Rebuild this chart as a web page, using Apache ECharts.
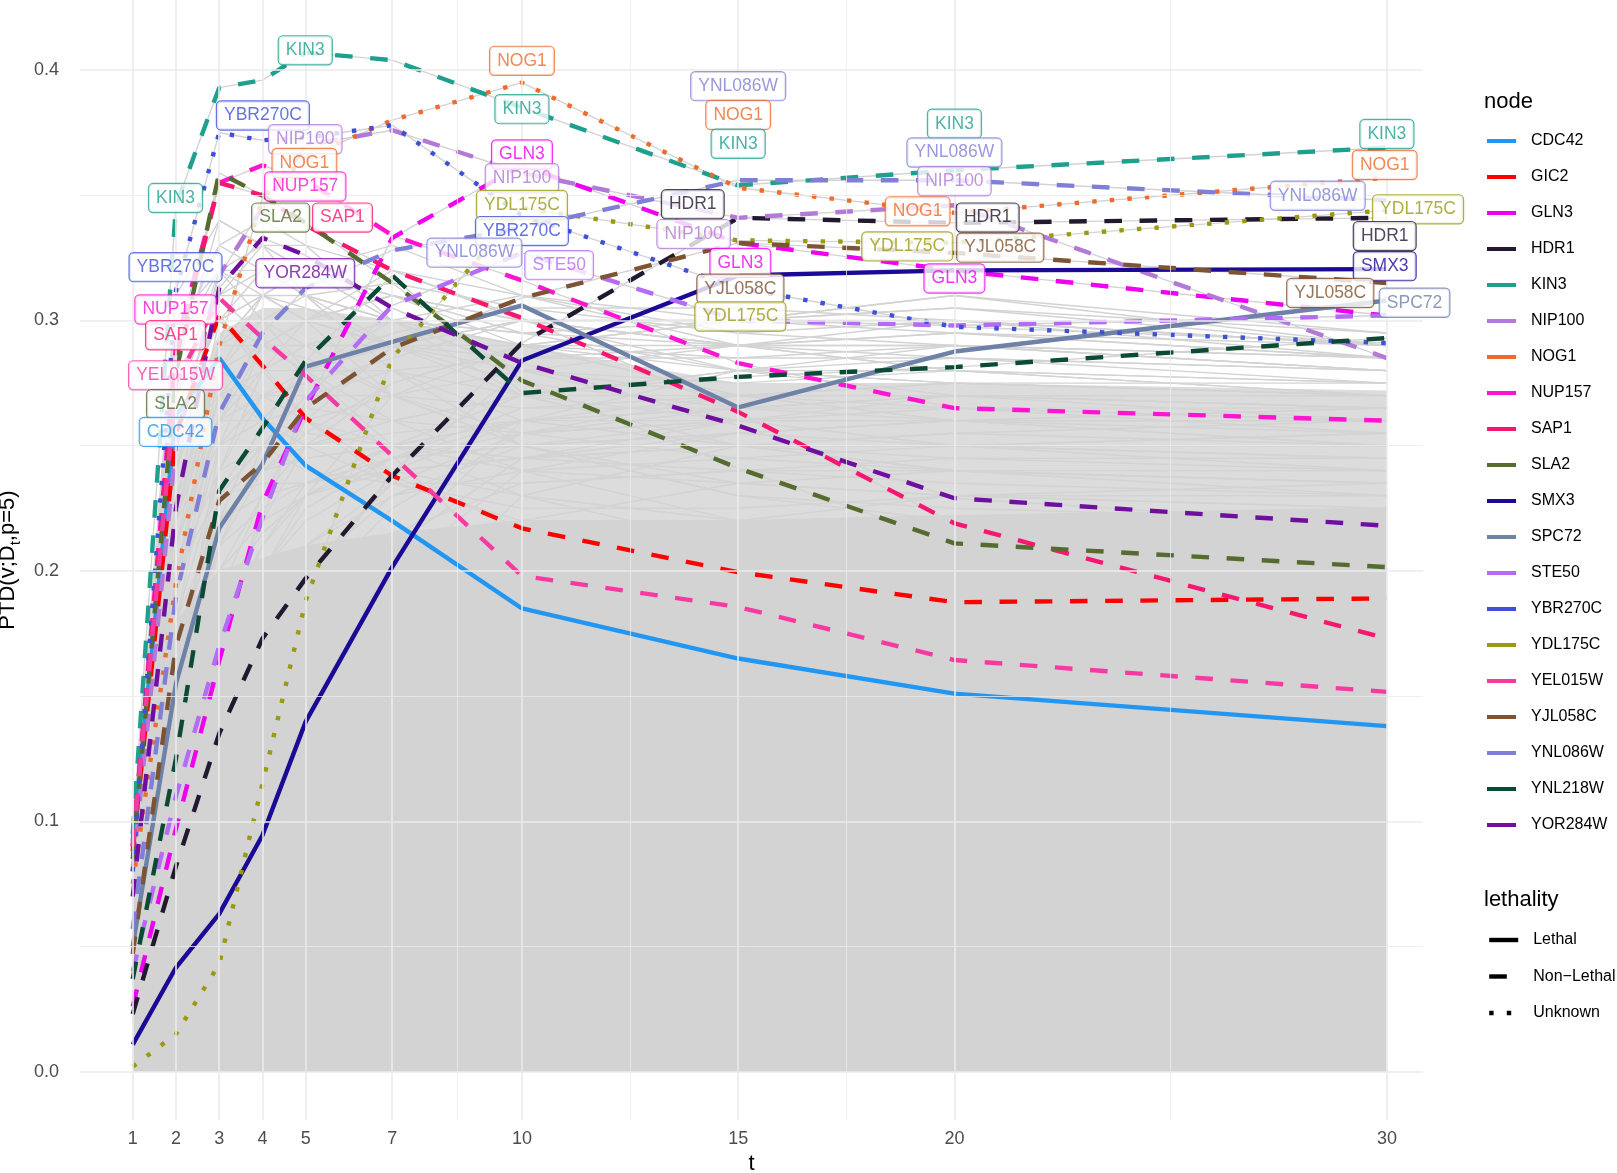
<!DOCTYPE html>
<html>
<head>
<meta charset="utf-8">
<title>PTD(v;Dt,p=5)</title>
<script src="https://cdn.jsdelivr.net/npm/echarts@6/dist/echarts.min.js"></script>
<style>
html, body { margin: 0; padding: 0; background: #fff; }
#main { width: 1617px; height: 1173px; }
</style>
</head>
<body>
<div id="main"></div>
<script>
// x positions (t) and tick values
var tValues = [1, 2, 3, 4, 5, 7, 10, 15, 20, 30];
var yTicks = [0, 0.1, 0.2, 0.3, 0.4];
var yMinor = [0.05, 0.15, 0.25, 0.35];
var xMinor = [8.5, 12.5, 17.5, 25];

// highlighted nodes, values at each t
var cdc42   = [0.092, 0.262, 0.285, 0.261, 0.242, 0.220, 0.185, 0.165, 0.151, 0.138];
var gic2    = [0.088, 0.255, 0.302, 0.282, 0.261, 0.238, 0.217, 0.1995, 0.1875, 0.189];
var gln3    = [0.026, 0.097, 0.164, 0.227, 0.265, 0.333, 0.362, 0.331, 0.320, 0.302];
var hdr1    = [0.023, 0.082, 0.135, 0.173, 0.197, 0.238, 0.291, 0.341, 0.339, 0.341];
var kin3    = [0.095, 0.346, 0.393, 0.396, 0.407, 0.404, 0.385, 0.354, 0.360, 0.369];
var nip100  = [0.080, 0.250, 0.318, 0.345, 0.370, 0.376, 0.359, 0.341, 0.346, 0.285];
var nog1    = [0.075, 0.195, 0.290, 0.349, 0.365, 0.380, 0.395, 0.353, 0.343, 0.357];
var nup157  = [0.090, 0.290, 0.355, 0.362, 0.356, 0.334, 0.316, 0.283, 0.265, 0.260];
var sap1    = [0.090, 0.285, 0.355, 0.350, 0.338, 0.320, 0.301, 0.2635, 0.219, 0.173];
var sla2    = [0.085, 0.279, 0.359, 0.350, 0.339, 0.315, 0.276, 0.241, 0.211, 0.2015];
var smx3    = [0.0108, 0.0416, 0.063, 0.0944, 0.1398, 0.2015, 0.284, 0.318, 0.320, 0.3205];
var spc72   = [0.050, 0.155, 0.217, 0.2427, 0.2816, 0.2915, 0.306, 0.2653, 0.2876, 0.308];
var ste50   = [0.040, 0.110, 0.170, 0.221, 0.268, 0.306, 0.327, 0.300, 0.298, 0.302];
var ybr270c = [0.080, 0.312, 0.375, 0.372, 0.373, 0.378, 0.342, 0.313, 0.2975, 0.291];
var ydl175c = [0.002, 0.015, 0.043, 0.115, 0.188, 0.285, 0.345, 0.332, 0.331, 0.344];
var yel015w = [0.090, 0.275, 0.309, 0.293, 0.278, 0.246, 0.198, 0.1856, 0.1644, 0.1517];
var yjl058c = [0.047, 0.170, 0.228, 0.243, 0.265, 0.289, 0.309, 0.331, 0.327, 0.315];
var ynl086w = [0.057, 0.190, 0.263, 0.295, 0.313, 0.328, 0.337, 0.356, 0.356, 0.348];
var ynl218w = [0.037, 0.125, 0.232, 0.257, 0.284, 0.318, 0.271, 0.2775, 0.2814, 0.293];
var yor284w = [0.070, 0.225, 0.313, 0.333, 0.326, 0.305, 0.283, 0.258, 0.229, 0.218];

var nodeNames = ['CDC42', 'GIC2', 'GLN3', 'HDR1', 'KIN3', 'NIP100', 'NOG1', 'NUP157', 'SAP1', 'SLA2',
                 'SMX3', 'SPC72', 'STE50', 'YBR270C', 'YDL175C', 'YEL015W', 'YJL058C', 'YNL086W', 'YNL218W', 'YOR284W'];
var nodeData = [cdc42, gic2, gln3, hdr1, kin3, nip100, nog1, nup157, sap1, sla2,
                smx3, spc72, ste50, ybr270c, ydl175c, yel015w, yjl058c, ynl086w, ynl218w, yor284w];
var nodeColors = ['#2196f3', '#ff0000', '#f000f0', '#22182f', '#1fa08f', '#b27ad6', '#ef6a2b', '#ff14d2', '#f7176f', '#556b2f',
                  '#1a0a96', '#6e81a6', '#b46cf6', '#3f50d8', '#9a9a12', '#f73aa2', '#7d5433', '#7f7fd5', '#0b4a35', '#6f0fa0'];
var lethalityNames = ['Lethal', 'Non\u2212Lethal', 'Unknown'];
var nodeLethality = [0, 1, 1, 1, 1, 1, 2, 1, 1, 1,
                     0, 0, 1, 2, 2, 1, 1, 1, 1, 1];

// the other nodes (grey): where the lines are too dense to tell apart, a filled band;
// the mesh above it is thinner, then the separate lines that stand out
var greyFloor = [0.090, 0.180, 0.200, 0.205, 0.210, 0.215, 0.220, 0.220, 0.222, 0.225];
var greyMesh  = [0.095, 0.250, 0.295, 0.305, 0.305, 0.300, 0.290, 0.275, 0.275, 0.272];
var greyLines = [
  [0.090, 0.300, 0.330, 0.320, 0.310, 0.290, 0.270, 0.250, 0.240, 0.230],
  [0.080, 0.280, 0.340, 0.330, 0.320, 0.300, 0.280, 0.260, 0.250, 0.245],
  [0.070, 0.250, 0.310, 0.330, 0.330, 0.320, 0.300, 0.280, 0.270, 0.260],
  [0.060, 0.220, 0.290, 0.310, 0.320, 0.330, 0.310, 0.290, 0.280, 0.270],
  [0.050, 0.180, 0.260, 0.290, 0.300, 0.310, 0.300, 0.300, 0.305, 0.295],
  [0.040, 0.150, 0.220, 0.260, 0.280, 0.300, 0.310, 0.300, 0.310, 0.290],
  [0.030, 0.120, 0.190, 0.230, 0.260, 0.290, 0.300, 0.290, 0.300, 0.285],
  [0.020, 0.090, 0.150, 0.200, 0.230, 0.270, 0.290, 0.300, 0.300, 0.290],
  [0.015, 0.070, 0.120, 0.160, 0.190, 0.240, 0.280, 0.290, 0.290, 0.280],
  [0.010, 0.050, 0.090, 0.130, 0.160, 0.210, 0.260, 0.280, 0.285, 0.280],
  [0.085, 0.270, 0.300, 0.290, 0.280, 0.260, 0.240, 0.220, 0.215, 0.210],
  [0.075, 0.240, 0.290, 0.300, 0.290, 0.270, 0.250, 0.230, 0.225, 0.220],
  [0.065, 0.210, 0.270, 0.280, 0.280, 0.280, 0.270, 0.260, 0.250, 0.240],
  [0.055, 0.190, 0.250, 0.270, 0.270, 0.270, 0.265, 0.270, 0.270, 0.265],
  [0.045, 0.160, 0.230, 0.250, 0.260, 0.270, 0.280, 0.275, 0.280, 0.275],
  [0.035, 0.130, 0.200, 0.230, 0.250, 0.260, 0.270, 0.280, 0.290, 0.280],
  [0.025, 0.100, 0.170, 0.210, 0.235, 0.250, 0.260, 0.265, 0.270, 0.270],
  [0.020, 0.080, 0.130, 0.170, 0.200, 0.235, 0.255, 0.260, 0.260, 0.265],
  [0.012, 0.060, 0.100, 0.140, 0.170, 0.210, 0.245, 0.255, 0.250, 0.255],
  [0.008, 0.040, 0.070, 0.100, 0.130, 0.180, 0.230, 0.250, 0.255, 0.260],
  [0.090, 0.290, 0.320, 0.300, 0.280, 0.250, 0.230, 0.210, 0.200, 0.190],
  [0.080, 0.260, 0.280, 0.270, 0.260, 0.240, 0.230, 0.220, 0.210, 0.205],
  [0.070, 0.230, 0.260, 0.260, 0.255, 0.250, 0.245, 0.240, 0.235, 0.230],
  [0.060, 0.200, 0.240, 0.250, 0.250, 0.255, 0.260, 0.250, 0.245, 0.240],
  [0.050, 0.170, 0.220, 0.240, 0.245, 0.250, 0.250, 0.255, 0.260, 0.250],
  [0.040, 0.140, 0.190, 0.215, 0.230, 0.245, 0.250, 0.260, 0.265, 0.255],
  [0.030, 0.110, 0.160, 0.190, 0.210, 0.230, 0.240, 0.245, 0.250, 0.245],
  [0.020, 0.085, 0.130, 0.160, 0.185, 0.215, 0.235, 0.240, 0.240, 0.235],
  [0.010, 0.055, 0.090, 0.120, 0.150, 0.190, 0.220, 0.235, 0.240, 0.240],
  [0.005, 0.030, 0.060, 0.090, 0.115, 0.160, 0.200, 0.220, 0.230, 0.235],
  [0.085, 0.260, 0.300, 0.310, 0.300, 0.290, 0.285, 0.290, 0.295, 0.285],
  [0.070, 0.220, 0.280, 0.300, 0.310, 0.315, 0.305, 0.295, 0.300, 0.290],
  [0.055, 0.200, 0.270, 0.290, 0.300, 0.310, 0.300, 0.290, 0.285, 0.275],
  [0.040, 0.160, 0.240, 0.280, 0.300, 0.320, 0.310, 0.295, 0.290, 0.280],
  [0.060, 0.240, 0.310, 0.320, 0.310, 0.280, 0.260, 0.250, 0.250, 0.250],
  [0.050, 0.210, 0.290, 0.310, 0.305, 0.290, 0.275, 0.265, 0.260, 0.260],
  [0.030, 0.130, 0.210, 0.250, 0.270, 0.280, 0.285, 0.285, 0.290, 0.285],
  [0.020, 0.100, 0.180, 0.220, 0.250, 0.275, 0.290, 0.300, 0.305, 0.290],
  [0.090, 0.270, 0.310, 0.310, 0.300, 0.270, 0.250, 0.235, 0.230, 0.225],
  [0.080, 0.250, 0.290, 0.290, 0.285, 0.270, 0.255, 0.245, 0.240, 0.235],
  [0.095, 0.310, 0.340, 0.330, 0.310, 0.280, 0.250, 0.230, 0.220, 0.210],
  [0.088, 0.300, 0.320, 0.310, 0.300, 0.290, 0.300, 0.290, 0.280, 0.270],
  [0.082, 0.290, 0.330, 0.340, 0.330, 0.300, 0.270, 0.250, 0.240, 0.235],
  [0.078, 0.270, 0.320, 0.320, 0.310, 0.300, 0.290, 0.270, 0.265, 0.260],
  [0.072, 0.260, 0.300, 0.310, 0.320, 0.310, 0.295, 0.280, 0.275, 0.270],
  [0.066, 0.230, 0.280, 0.290, 0.290, 0.300, 0.295, 0.300, 0.295, 0.285],
  [0.062, 0.220, 0.270, 0.270, 0.260, 0.250, 0.240, 0.235, 0.230, 0.225],
  [0.058, 0.200, 0.260, 0.280, 0.290, 0.290, 0.280, 0.270, 0.260, 0.255],
  [0.052, 0.190, 0.250, 0.260, 0.265, 0.260, 0.255, 0.260, 0.265, 0.260],
  [0.048, 0.180, 0.240, 0.270, 0.280, 0.290, 0.290, 0.285, 0.285, 0.280],
  [0.044, 0.170, 0.220, 0.240, 0.250, 0.260, 0.270, 0.270, 0.275, 0.270],
  [0.038, 0.150, 0.210, 0.240, 0.255, 0.275, 0.290, 0.290, 0.295, 0.290],
  [0.034, 0.140, 0.200, 0.220, 0.230, 0.240, 0.245, 0.250, 0.255, 0.250],
  [0.028, 0.120, 0.180, 0.210, 0.230, 0.250, 0.270, 0.280, 0.280, 0.275],
  [0.024, 0.110, 0.170, 0.200, 0.220, 0.240, 0.260, 0.270, 0.275, 0.270],
  [0.018, 0.090, 0.150, 0.190, 0.210, 0.235, 0.255, 0.265, 0.270, 0.265],
  [0.014, 0.075, 0.130, 0.170, 0.200, 0.230, 0.250, 0.255, 0.260, 0.260],
  [0.010, 0.065, 0.120, 0.160, 0.190, 0.225, 0.255, 0.270, 0.275, 0.275],
  [0.006, 0.050, 0.100, 0.140, 0.170, 0.210, 0.245, 0.260, 0.270, 0.270],
  [0.004, 0.035, 0.080, 0.120, 0.155, 0.200, 0.240, 0.255, 0.260, 0.265],
  [0.090, 0.280, 0.300, 0.280, 0.260, 0.235, 0.220, 0.215, 0.210, 0.215],
  [0.085, 0.250, 0.270, 0.260, 0.250, 0.235, 0.225, 0.225, 0.230, 0.230],
  [0.075, 0.220, 0.250, 0.250, 0.240, 0.235, 0.235, 0.240, 0.245, 0.245],
  [0.065, 0.200, 0.230, 0.235, 0.235, 0.240, 0.245, 0.250, 0.250, 0.255],
  [0.055, 0.180, 0.220, 0.230, 0.235, 0.245, 0.255, 0.260, 0.260, 0.260],
  [0.045, 0.160, 0.210, 0.225, 0.235, 0.250, 0.260, 0.265, 0.270, 0.265],
  [0.035, 0.130, 0.190, 0.215, 0.230, 0.245, 0.260, 0.260, 0.260, 0.260],
  [0.025, 0.100, 0.160, 0.200, 0.225, 0.245, 0.265, 0.265, 0.265, 0.265],
  [0.050, 0.220, 0.300, 0.320, 0.320, 0.310, 0.290, 0.270, 0.270, 0.265],
  [0.070, 0.250, 0.320, 0.330, 0.320, 0.300, 0.280, 0.270, 0.260, 0.250],
  [0.040, 0.190, 0.280, 0.310, 0.310, 0.300, 0.290, 0.280, 0.275, 0.270],
  [0.030, 0.150, 0.250, 0.290, 0.300, 0.300, 0.295, 0.290, 0.290, 0.285],
  [0.060, 0.210, 0.260, 0.270, 0.275, 0.285, 0.300, 0.300, 0.310, 0.295],
  [0.020, 0.120, 0.220, 0.260, 0.280, 0.295, 0.305, 0.305, 0.300, 0.290]
];

// repelled labels: node, t, value
var labelNodes = ['KIN3', 'YBR270C', 'NIP100', 'NOG1', 'NUP157', 'SLA2', 'SAP1', 'YOR284W',
                  'KIN3', 'YBR270C', 'NUP157', 'SAP1', 'YEL015W', 'SLA2', 'CDC42',
                  'NOG1', 'KIN3', 'GLN3', 'NIP100', 'YDL175C', 'YBR270C', 'YNL086W', 'STE50',
                  'YNL086W', 'NOG1', 'KIN3', 'HDR1', 'NIP100', 'GLN3', 'YJL058C', 'YDL175C',
                  'KIN3', 'YNL086W', 'NIP100', 'NOG1', 'HDR1', 'YDL175C', 'YJL058C', 'GLN3',
                  'KIN3', 'NOG1', 'YNL086W', 'YDL175C', 'HDR1', 'SMX3', 'YJL058C', 'SPC72'];
var labelT = [4.99, 4.01, 4.99, 4.97, 4.99, 4.42, 5.85, 4.99,
              1.99, 1.99, 1.99, 1.99, 1.99, 1.99, 1.99,
              10.0, 10.0, 10.0, 10.0, 10.0, 10.0, 8.90, 10.86,
              15.0, 15.0, 15.0, 13.95, 13.97, 15.05, 15.05, 15.05,
              20.0, 20.0, 20.0, 19.15, 20.77, 18.91, 21.06, 20.0,
              30.0, 29.95, 28.40, 30.72, 29.95, 29.95, 28.69, 30.64];
var labelV = [0.4079, 0.3819, 0.3724, 0.3629, 0.3535, 0.3411, 0.3411, 0.3189,
              0.3489, 0.3213, 0.3044, 0.2941, 0.2781, 0.2666, 0.2555,
              0.4037, 0.3844, 0.3663, 0.3568, 0.3461, 0.3357, 0.3271, 0.3221,
              0.3936, 0.3821, 0.3706, 0.3464, 0.3345, 0.3230, 0.3127, 0.3016,
              0.3786, 0.3671, 0.3556, 0.3436, 0.3411, 0.3296, 0.3291, 0.3168,
              0.3745, 0.3621, 0.3498, 0.3444, 0.3337, 0.3217, 0.3110, 0.3071];

var FONT = '"Liberation Sans", Arial, sans-serif';
var GREY = '#d3d3d3';
var dashStyles = ['solid', [17.6, 17.6], [4.4, 13.2]];

function pairs(vals) {
  return tValues.map(function (t, i) { return [t, vals[i]]; });
}

var series = [];

// panel grid lines (behind everything)
var gridLines = [];
tValues.forEach(function (t) { gridLines.push({ xAxis: t, lineStyle: { width: 1.6 } }); });
xMinor.forEach(function (t) { gridLines.push({ xAxis: t, lineStyle: { width: 0.8 } }); });
yTicks.forEach(function (v) { gridLines.push({ yAxis: v, lineStyle: { width: 1.6 } }); });
yMinor.forEach(function (v) { gridLines.push({ yAxis: v, lineStyle: { width: 0.8 } }); });
series.push({
  type: 'line', data: [], z: 0, silent: true,
  markLine: {
    silent: true, symbol: ['none', 'none'], label: { show: false },
    lineStyle: { color: '#ebebeb', type: 'solid' },
    emphasis: { disabled: true },
    data: gridLines
  }
});

// grey mass: thinner mesh first, the solid part over it
series.push({
  type: 'line', data: pairs(greyMesh), z: 1, silent: true, symbol: 'none',
  lineStyle: { width: 0 },
  areaStyle: { color: GREY, opacity: 0.8 }
});
series.push({
  type: 'line', data: pairs(greyFloor), z: 1, silent: true, symbol: 'none',
  lineStyle: { color: GREY, width: 1.4 },
  areaStyle: { color: GREY, opacity: 1 }
});
greyLines.forEach(function (vals) {
  series.push({
    type: 'line', data: pairs(vals), z: 1, silent: true, symbol: 'none',
    lineStyle: { color: GREY, width: 1.4 }
  });
});
// grey copy under each highlighted node
nodeData.forEach(function (vals) {
  series.push({
    type: 'line', data: pairs(vals), z: 1, silent: true, symbol: 'none',
    lineStyle: { color: GREY, width: 1.4 }
  });
});

// highlighted nodes
nodeNames.forEach(function (name, i) {
  series.push({
    name: name, type: 'line', data: pairs(nodeData[i]), z: 3, symbol: 'none',
    color: nodeColors[i],
    lineStyle: { color: nodeColors[i], width: 4.4, type: dashStyles[nodeLethality[i]], cap: 'butt' }
  });
});

// empty series just for the lethality legend
lethalityNames.forEach(function (name, i) {
  series.push({
    name: name, type: 'line', data: [], symbol: 'none', color: '#000',
    lineStyle: { color: '#000', width: 4.4, type: dashStyles[i] }
  });
});

// labels
var labelItems = labelNodes.map(function (n, i) {
  var c = nodeColors[nodeNames.indexOf(n)];
  return { name: n, value: [labelT[i], labelV[i]], label: { color: c, borderColor: c } };
});
series.push({
  type: 'scatter', data: labelItems, z: 10, symbolSize: 1, silent: true,
  itemStyle: { color: 'rgba(0,0,0,0)' },
  label: {
    show: true, position: 'inside', formatter: '{b}',
    fontFamily: FONT, fontSize: 17.5, lineHeight: 18,
    backgroundColor: '#fff', borderWidth: 1.2, borderRadius: 4, padding: [5, 7]
  }
});

var option = {
  animation: false,
  backgroundColor: '#fff',
  textStyle: { fontFamily: FONT },
  title: [
    { text: 'node', left: 1484, top: 91, padding: 0,
      textStyle: { fontSize: 22, fontWeight: 'normal', color: '#000', fontFamily: FONT } },
    { text: 'lethality', left: 1484, top: 889, padding: 0,
      textStyle: { fontSize: 22, fontWeight: 'normal', color: '#000', fontFamily: FONT } }
  ],
  legend: [
    {
      data: nodeNames, orient: 'vertical', left: 1487, top: 131, padding: 0,
      icon: 'rect', itemWidth: 29, itemHeight: 4, itemGap: 16, selectedMode: false,
      itemStyle: { borderWidth: 0 },
      textStyle: { fontSize: 16, color: '#000', lineHeight: 20, fontFamily: FONT, padding: [0, 0, 0, 10] }
    },
    {
      data: lethalityNames, orient: 'vertical', left: 1487, top: 930, padding: 0,
      itemWidth: 29, itemHeight: 14, itemGap: 16.5, selectedMode: false,
      itemStyle: { opacity: 0, borderWidth: 0 },
      lineStyle: { width: 4.4 },
      textStyle: { fontSize: 16, color: '#000', lineHeight: 20, fontFamily: FONT, padding: [0, 0, 0, 10] }
    }
  ],
  grid: { left: 80, right: 194, top: 0, bottom: 53, containLabel: false, outerBoundsMode: 'none' },
  xAxis: {
    type: 'value', min: -0.219, max: 30.835,
    name: 't', nameLocation: 'middle', nameGap: 31,
    nameTextStyle: { fontSize: 22, color: '#000', fontFamily: FONT },
    axisLine: { show: false }, axisTick: { show: false }, splitLine: { show: false },
    axisLabel: { customValues: tValues, margin: 10, fontSize: 18, color: '#4d4d4d', fontFamily: FONT }
  },
  yAxis: {
    type: 'value', min: -0.0193, max: 0.428,
    name: '{a|PTD(v;D}{b|t}{a|,p=5)}', nameLocation: 'middle', nameGap: 57, nameRotate: 90,
    nameTextStyle: {
      color: '#000', fontFamily: FONT,
      rich: {
        a: { fontSize: 22, lineHeight: 30, verticalAlign: 'middle', color: '#000', fontFamily: FONT },
        b: { fontSize: 15, lineHeight: 15, verticalAlign: 'bottom', color: '#000', fontFamily: FONT }
      }
    },
    axisLine: { show: false }, axisTick: { show: false }, splitLine: { show: false },
    axisLabel: {
      customValues: yTicks, margin: 21, fontSize: 18, color: '#4d4d4d', fontFamily: FONT,
      formatter: function (v) { return v.toFixed(1); }
    }
  },
  series: series
};

var chart = echarts.init(document.getElementById('main'));
chart.setOption(option);
</script>
</body>
</html>
